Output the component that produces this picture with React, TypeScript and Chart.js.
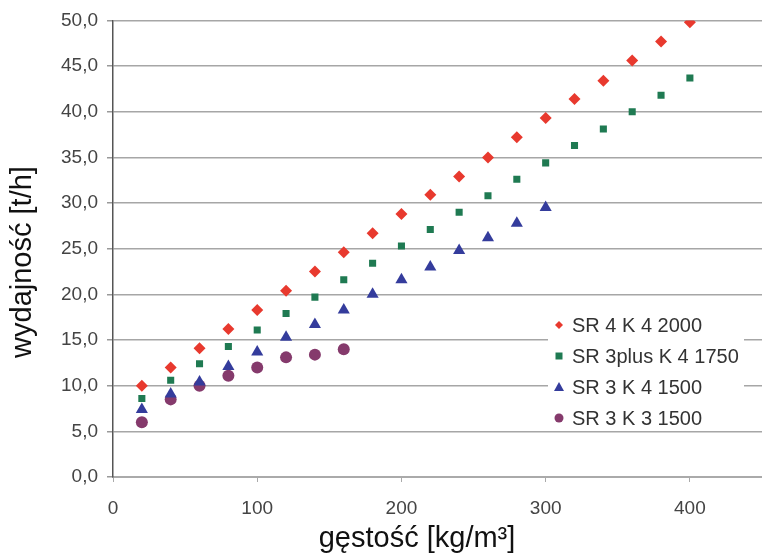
import React, { useEffect, useRef } from "react";
import { Chart, registerables } from "chart.js";

Chart.register(...registerables);

const xValues = [20, 40, 60, 80, 100, 120, 140, 160, 180, 200, 220, 240, 260, 280, 300, 320, 340, 360, 380, 400];

const seriesNames = ["SR 4 K 4 2000", "SR 3plus K 4 1750", "SR 3 K 4 1500", "SR 3 K 3 1500"];

const sr4k4: number[] = [10.0, 12.0, 14.1, 16.2, 18.3, 20.4, 22.5, 24.6, 26.7, 28.8, 30.9, 32.9, 35.0, 37.2, 39.3, 41.4, 43.4, 45.6, 47.7, 49.8];
const sr3plus: number[] = [8.6, 10.6, 12.4, 14.3, 16.1, 17.9, 19.7, 21.6, 23.4, 25.3, 27.1, 29.0, 30.8, 32.6, 34.4, 36.3, 38.1, 40.0, 41.8, 43.7];
const sr3k4: number[] = [7.4, 9.1, 10.4, 12.1, 13.7, 15.3, 16.7, 18.3, 20.0, 21.6, 23.0, 24.8, 26.2, 27.8, 29.5];
const sr3k3: number[] = [6.0, 8.5, 10.0, 11.1, 12.0, 13.1, 13.4, 14.0];

const yTicks = [0, 5, 10, 15, 20, 25, 30, 35, 40, 45, 50];
const xTicks = [0, 100, 200, 300, 400];

const xTitle = "gęstość [kg/m³]";
const yTitle = "wydajność [t/h]";

const colors = ["#e8392e", "#1f7a52", "#343c9c", "#853a6c"];
const styles = ["rectRot", "rect", "triangle", "circle"];
const radii = [6, 5, 7, 6];

const FONT = "Arial, 'Liberation Sans', sans-serif";

function toPoints(vals: number[]) {
  return vals.map((v, i) => ({ x: xValues[i], y: v }));
}

const overlayPlugin = {
  id: "overlay",
  afterDraw(chart: any) {
    const ctx = chart.ctx as CanvasRenderingContext2D;
    ctx.save();
    // axis titles
    ctx.fillStyle = "#111";
    ctx.font = `29px ${FONT}`;
    ctx.textAlign = "center";
    ctx.textBaseline = "middle";
    ctx.fillText(xTitle, 417, 539);
    ctx.save();
    ctx.translate(23, 262);
    ctx.rotate(-Math.PI / 2);
    ctx.fillText(yTitle, 0, 0);
    ctx.restore();

    // legend box
    const lx = 548;
    const ly = 311;
    ctx.fillStyle = "#ffffff";
    ctx.fillRect(lx, ly, 196, 120);
    ctx.font = `20px ${FONT}`;
    ctx.textAlign = "left";
    const rowY = [325, 356, 387, 418];
    seriesNames.forEach((name, i) => {
      const y = rowY[i];
      const mx = 559;
      ctx.fillStyle = colors[i];
      ctx.beginPath();
      const s = 4;
      if (i === 0) {
        ctx.moveTo(mx, y - s);
        ctx.lineTo(mx + s, y);
        ctx.lineTo(mx, y + s);
        ctx.lineTo(mx - s, y);
        ctx.closePath();
      } else if (i === 1) {
        ctx.rect(mx - 3.5, y - 3.5, 7, 7);
      } else if (i === 2) {
        ctx.moveTo(mx, y - 5);
        ctx.lineTo(mx + 5, y + 4);
        ctx.lineTo(mx - 5, y + 4);
        ctx.closePath();
      } else {
        ctx.arc(mx, y, 4.5, 0, Math.PI * 2);
      }
      ctx.fill();
      ctx.fillStyle = "#333";
      ctx.fillText(name, 572, y + 1);
    });
    ctx.restore();
  },
};

export default function App() {
  const ref = useRef<HTMLCanvasElement | null>(null);
  useEffect(() => {
    if (!ref.current) return;
    const data = [sr4k4, sr3plus, sr3k4, sr3k3];
    const chart = new Chart(ref.current, {
      type: "scatter",
      data: {
        datasets: data.map((vals, i) => ({
          label: seriesNames[i],
          data: toPoints(vals),
          pointStyle: styles[i] as any,
          pointRadius: radii[i],
          pointHoverRadius: radii[i],
          backgroundColor: colors[i],
          borderColor: colors[i],
          borderWidth: 0,
        })),
      },
      options: {
        animation: false,
        responsive: true,
        maintainAspectRatio: false,
        layout: { padding: { top: 20, left: 0, right: 0, bottom: 0 } },
        plugins: {
          legend: { display: false },
          tooltip: { enabled: false },
          title: { display: false },
        },
        scales: {
          x: {
            type: "linear",
            min: 0,
            max: 450,
            afterBuildTicks: (scale: any) => {
              scale.ticks = xTicks.map((v) => ({ value: v }));
            },
            afterFit: (scale: any) => {
              scale.height = 78;
            },
            ticks: {
              color: "#444",
              font: { family: FONT, size: 19 },
              padding: 15,
            },
            grid: {
              drawOnChartArea: false,
              drawTicks: true,
              tickLength: 5,
              color: "#aaa",
            },
            border: { color: "#aaa", width: 2 },
          },
          y: {
            type: "linear",
            min: 0,
            max: 50,
            afterBuildTicks: (scale: any) => {
              scale.ticks = yTicks.map((v) => ({ value: v }));
            },
            afterFit: (scale: any) => {
              scale.width = 113;
            },
            ticks: {
              color: "#444",
              font: { family: FONT, size: 19 },
              padding: 9,
              callback: (v: any) => Number(v).toFixed(1).replace(".", ","),
            },
            grid: {
              color: "#a6a6a6",
              lineWidth: 1.5,
              tickLength: 6,
              tickColor: "#999",
            },
            border: { color: "#555", width: 1.5 },
          },
        },
      },
      plugins: [overlayPlugin],
    });
    return () => chart.destroy();
  }, []);
  return (
    <div style={{ position: "fixed", left: 0, top: 0, width: 769, height: 555, background: "#fff" }}>
      <canvas ref={ref} />
    </div>
  );
}
